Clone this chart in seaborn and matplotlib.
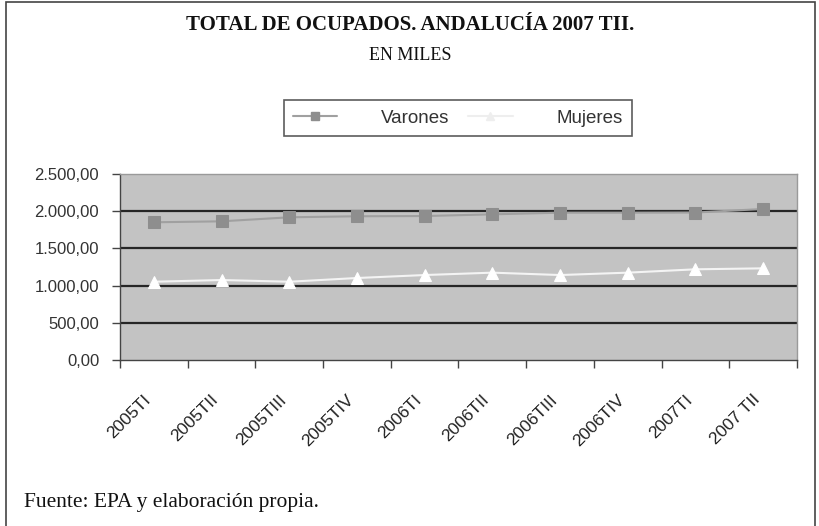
import numpy as np
import pandas as pd
import matplotlib
matplotlib.use("Agg")
import matplotlib.pyplot as plt
import seaborn as sns
from matplotlib.patches import Rectangle
from matplotlib.lines import Line2D

categories = ["2005TI", "2005TII", "2005TIII", "2005TIV", "2006TI", "2006TII",
              "2006TIII", "2006TIV", "2007TI", "2007 TII"]
varones = [1851, 1864, 1918, 1932, 1935, 1958, 1980, 1980, 1982, 2030]
mujeres = [1052, 1075, 1052, 1102, 1142, 1174, 1142, 1174, 1219, 1232]
yticks = [0, 500, 1000, 1500, 2000, 2500]
ytick_labels = ["0,00", "500,00", "1.000,00", "1.500,00", "2.000,00", "2.500,00"]

df = pd.DataFrame({"idx": np.arange(len(categories)), "cat": categories,
                   "Varones": varones, "Mujeres": mujeres})

sns.set_theme(style="white")
plt.rcParams["font.family"] = ["Liberation Sans", "DejaVu Sans"]

W, H = 820, 526
fig = plt.figure(figsize=(W / 100, H / 100), dpi=100)
ax = fig.add_axes([120 / W, 1 - 360 / H, (797 - 120) / W, (360 - 174) / H])
ax.set_facecolor("#c3c3c3")

sns.lineplot(data=df, x="idx", y="Varones", ax=ax, color="#a0a0a0", lw=1.5,
             marker="s", markersize=8, markerfacecolor="#8e8e8e",
             markeredgecolor="#8e8e8e", zorder=4)
sns.lineplot(data=df, x="idx", y="Mujeres", ax=ax, color="#f4f4f4", lw=1.5,
             marker="^", markersize=9, markerfacecolor="white",
             markeredgecolor="white", zorder=4)

ax.set_xlim(-0.5, len(categories) - 0.5)
ax.set_ylim(0, 2500)
ax.set_yticks(yticks)
ax.set_yticklabels(ytick_labels, fontsize=12, color="#333333")
for y in yticks[1:-1]:
    ax.axhline(y, color="#262626", lw=1.6, zorder=2)

# category boundary ticks (major) and label positions (minor, nudged left)
ax.set_xticks(np.arange(-0.5, len(categories), 1.0))
ax.set_xticklabels([])
ax.set_xticks(np.arange(len(categories)) - 0.16, minor=True)
ax.set_xticklabels(categories, minor=True, rotation=45, ha="right",
                   rotation_mode="anchor", fontsize=12.5, color="#222222")
ax.tick_params(axis="x", which="minor", length=0, pad=23)
ax.tick_params(axis="x", which="major", length=6, width=1, color="#444444",
               direction="out", bottom=True)
ax.tick_params(axis="y", length=6, width=1, color="#444444", direction="out",
               left=True, pad=9)
ax.set_xlabel("")
ax.set_ylabel("")
for s in ["top", "right"]:
    ax.spines[s].set_color("#9a9a9a")
    ax.spines[s].set_linewidth(1)
ax.spines["left"].set_color("#444444")
ax.spines["bottom"].set_color("#444444")
ax.spines["left"].set_linewidth(1)
ax.spines["bottom"].set_linewidth(1)

handles = [Line2D([], [], color="#a0a0a0", lw=1.5, marker="s", markersize=6,
                  markerfacecolor="#8e8e8e", markeredgecolor="#8e8e8e"),
           Line2D([], [], color="#eeeeee", lw=1.5, marker="^", markersize=6,
                  markerfacecolor="#eeeeee", markeredgecolor="#eeeeee")]
leg = fig.legend(handles, ["Varones", "Mujeres"], ncol=2,
                 loc="center", bbox_to_anchor=(458 / W, 1 - 118 / H),
                 fontsize=13.5, frameon=True, fancybox=False, edgecolor="#333333",
                 handlelength=2.35, handletextpad=2.35, columnspacing=1.0,
                 borderpad=0.5, borderaxespad=0)
leg.get_frame().set_linewidth(1.2)
for t in leg.get_texts():
    t.set_color("#333333")

serif = ["Liberation Serif", "DejaVu Serif"]
fig.text(410 / W, 1 - 25 / H, "TOTAL DE OCUPADOS. ANDALUCÍA 2007 TII.",
         ha="center", va="center", fontsize=15, fontweight="bold",
         family=serif, color="#111111")
fig.text(410 / W, 1 - 55 / H, "EN MILES", ha="center", va="center",
         fontsize=13, family=serif, color="#111111")
fig.text(24 / W, 1 - 503 / H, "Fuente: EPA y elaboración propia.", ha="left",
         va="center", fontsize=15.5, family=serif, color="#111111")

fig.patches.append(Rectangle((6 / W, -0.01), (815 - 6) / W, 1 - 2 / H + 0.01,
                             transform=fig.transFigure, fill=False,
                             edgecolor="#444444", lw=1.2))

fig.savefig("out.png", dpi=100)
